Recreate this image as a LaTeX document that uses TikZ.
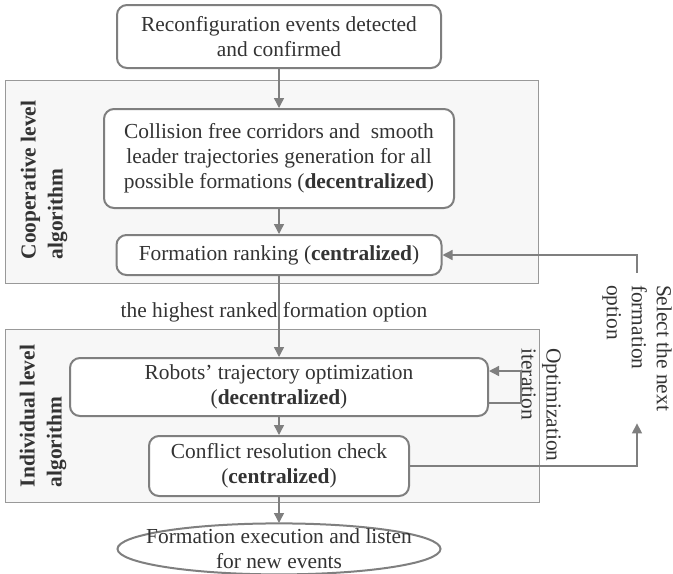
\documentclass[tikz,border=0pt]{standalone}
\usepackage{fontspec}
\setmainfont{Liberation Serif}
\usepackage{tikz}
\usetikzlibrary{positioning, arrows.meta, backgrounds}

\definecolor{linegray}{HTML}{7F7F7F}
\definecolor{textgray}{HTML}{333333}

\begin{document}
\begin{tikzpicture}[x=0.5pt,y=-0.5pt,
  every node/.style={font=\fontsize{10.7}{12.5}\selectfont, text=textgray},
  box/.style={draw=linegray, line width=1pt, rounded corners=5pt, fill=white, align=center, inner sep=2pt},
  flow/.style={draw=linegray, line width=0.7pt, -{Triangle[length=5pt,width=5pt]}},
  frame/.style={draw=linegray!80, line width=0.5pt, fill=black!3},
  sidelabel/.style={rotate=90, align=left, font=\fontsize{10.7}{13.5}\selectfont\bfseries}]

  \useasboundingbox (0,0) rectangle (673,573);

  % the two algorithm levels
  \draw[frame] (5,80) rectangle (538,283);
  \draw[frame] (5,329) rectangle (539,502);

  \node[sidelabel] (coop_lbl) at (44,180) {Cooperative level\\algorithm};
  \node[sidelabel] (indiv_lbl) at (43,416) {Individual level\\algorithm};

  \node[box, minimum width=162pt, minimum height=31.5pt] (events) at (279,36.5)
    {Reconfiguration events detected\\and confirmed};

  \node[box, below=19.5pt of events, minimum width=175pt, minimum height=49.5pt] (corridors)
    {Collision free corridors and\ \ smooth\\leader trajectories generation for all\\possible formations (\textbf{decentralized})};
  \node[box, below=12.5pt of corridors, minimum width=162.5pt, minimum height=20pt] (ranking)
    {Formation ranking (\textbf{centralized})};

  \node[box, below=40.5pt of ranking, minimum width=209pt, minimum height=29pt] (robots)
    {Robots’ trajectory optimization\\(\textbf{decentralized})};
  \node[box, below=9pt of robots, minimum width=130pt, minimum height=30pt] (conflict)
    {Conflict resolution check\\(\textbf{centralized})};

  \node[below=13pt of conflict, minimum width=161.5pt, minimum height=25.5pt, inner sep=0pt, align=center] (exec)
    {Formation execution and listen\\for new events};
  \begin{pgfonlayer}{background}
    \draw[draw=linegray, line width=1pt, fill=white] (exec) ellipse [x radius=80.75pt, y radius=12.75pt];
  \end{pgfonlayer}

  \node (best) at (274,312) {the highest ranked formation option};

  \node[rotate=-90, align=left, inner xsep=6pt] (select) at (637,348)
    {Select the next\\formation\\option};
  \node[rotate=-90, align=left] (iter) at (541,405) {Optimization\\iteration};

  \draw[flow] (events) -- (corridors);
  \draw[flow] (corridors) -- (ranking);
  \draw[flow] (ranking) -- (robots);
  \draw[flow] (robots) -- (conflict);
  \draw[flow] (conflict) -- (exec);

  % optimization loop
  \draw[flow] ([yshift=-8pt]robots.east) -- ++(32,0) |- ([yshift=8pt]robots.east);

  % back to the ranking
  \draw[flow] (conflict.east) -| (select.east);
  \draw[flow] (select.west) |- (ranking.east);

\end{tikzpicture}
\end{document}
